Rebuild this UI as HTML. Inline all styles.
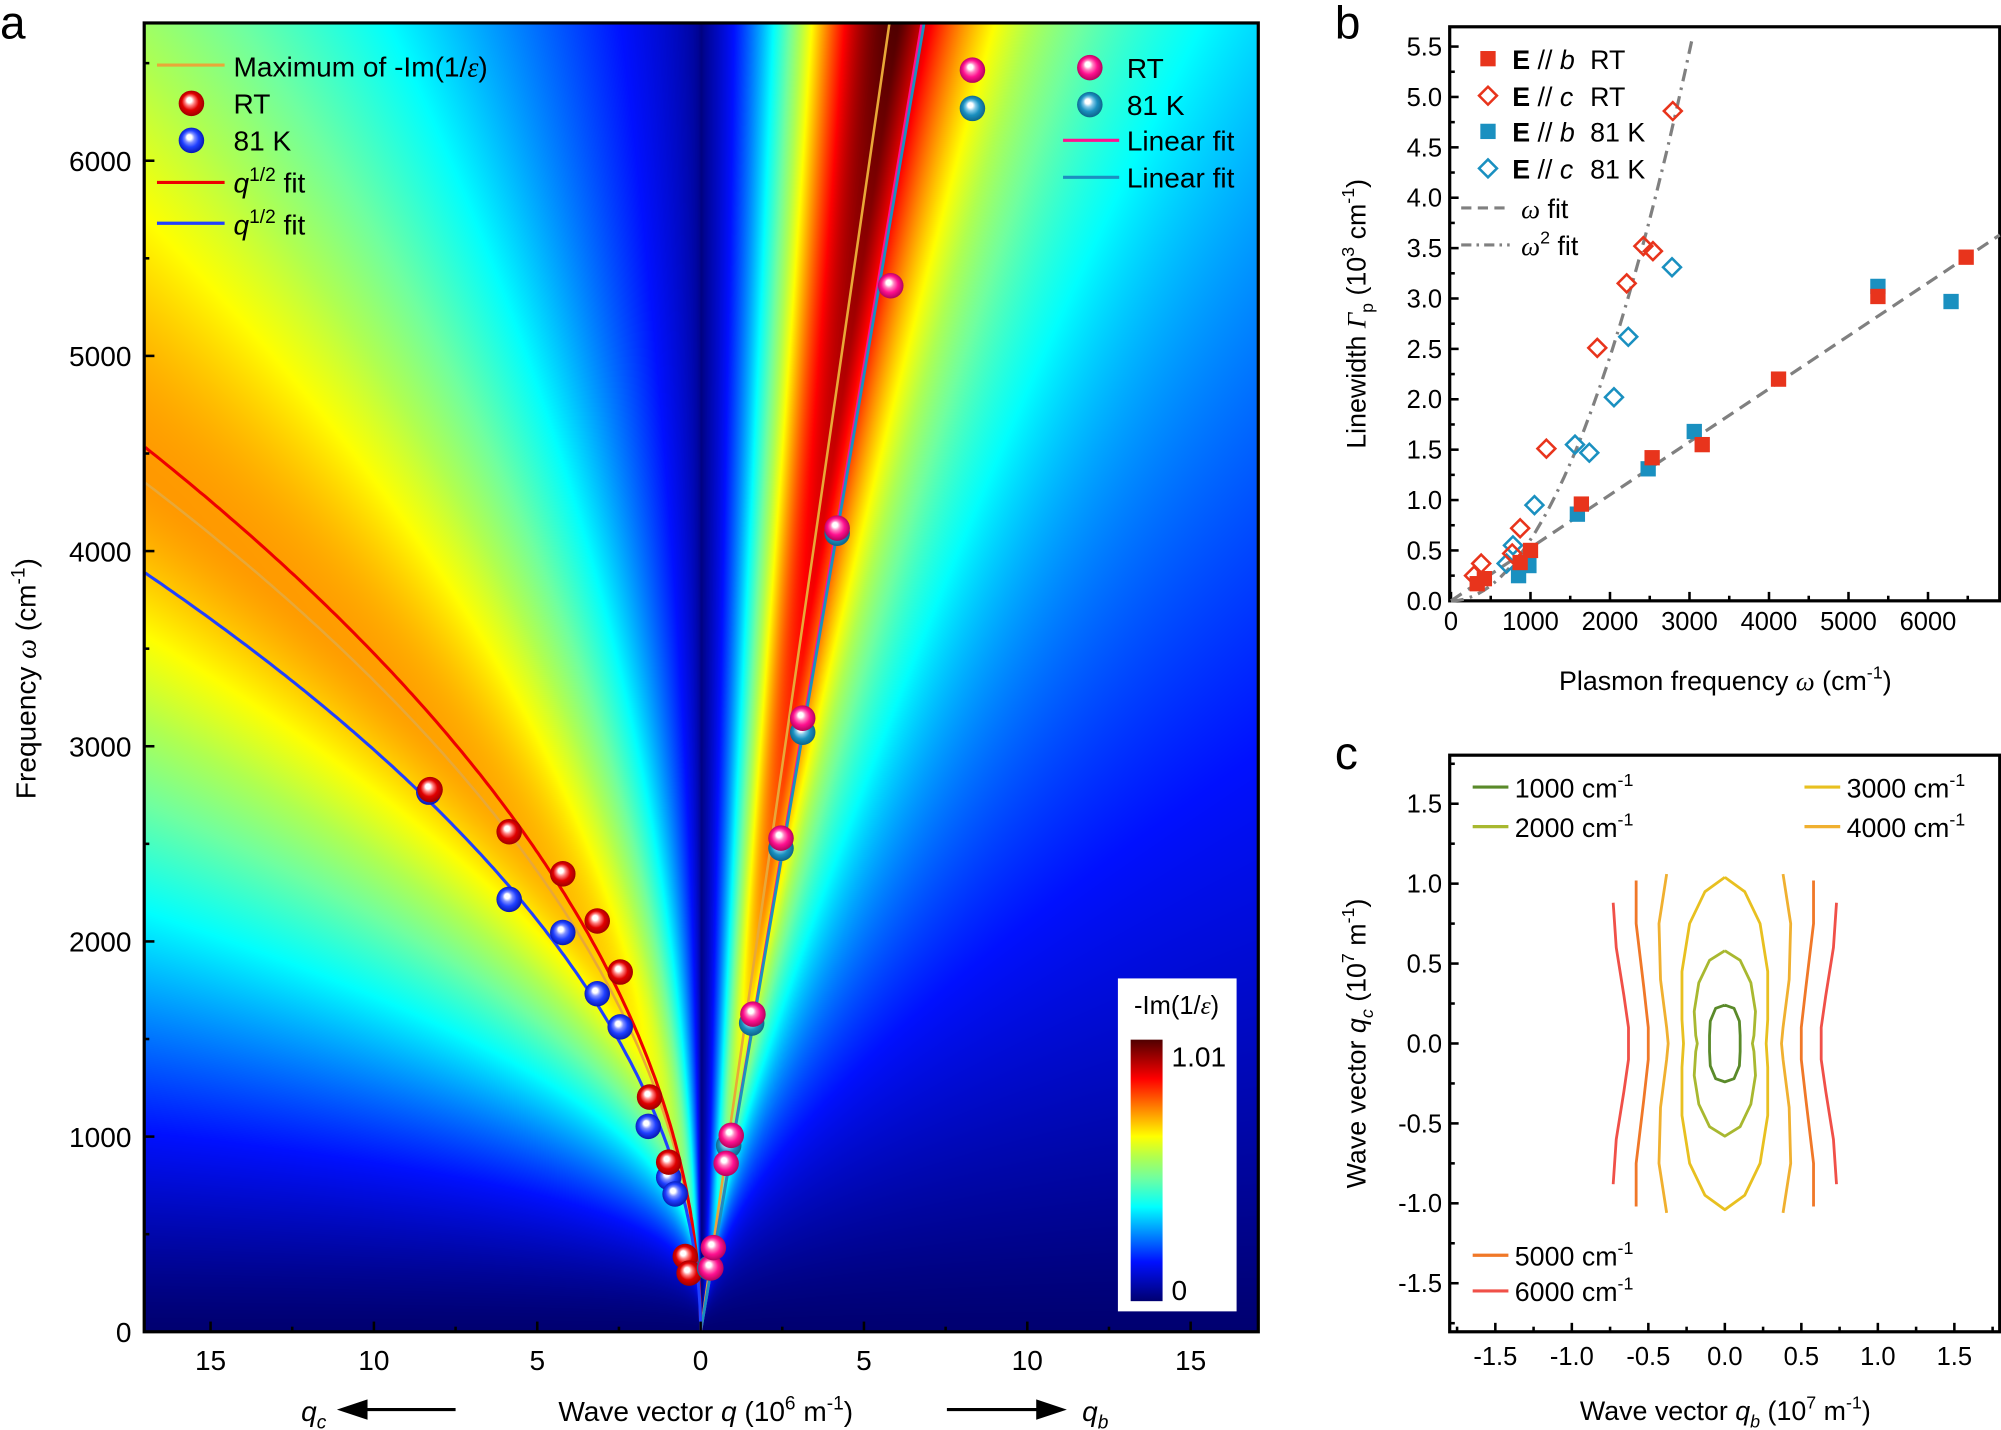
<!DOCTYPE html>
<html><head><meta charset="utf-8"><style>
html,body{margin:0;padding:0;background:#fff}
#w{position:relative;width:2001px;height:1430px;overflow:hidden;background:#fff}
canvas{position:absolute;left:144.2px;top:23px;width:1114px;height:1309px}
svg{position:absolute;left:0;top:0}
text{font-family:"Liberation Sans",sans-serif;fill:#000}
</style></head><body><div id="w">
<canvas id="cv" width="1114" height="1309"></canvas>
<svg id="sv" width="2001" height="1430" viewBox="0 0 1568 1121" preserveAspectRatio="none"></svg>
</div>
<script>
(function(){
var cv=document.getElementById('cv'),ctx=cv.getContext('2d');
var W=cv.width,H=cv.height,img=ctx.createImageData(W,H),d=img.data;
var st=[[0,0,0,112],[0.15,0,16,255],[0.36,0,255,255],[0.47,112,255,160],[0.55,176,255,80],[0.63,255,255,0],[0.74,255,128,0],[0.85,255,0,0],[1,80,0,0]];
function cm(v){if(v<0)v=0;if(v>1)v=1;for(var k=1;k<st.length;k++){if(v<=st[k][0]){var a=st[k-1],b=st[k],t=(v-a[0])/(b[0]-a[0]);return[a[1]+t*(b[1]-a[1]),a[2]+t*(b[2]-a[2]),a[3]+t*(b[3]-a[3])];}}return[80,0,0];}
for(var j=0;j<H;j++){var y=18+j*1026/H;var w=(1044-y)/0.153;if(w<1)w=1;
 for(var i=0;i<W;i++){var x=113+i*873/W;var q=(x-549)/25.6,v;
  if(q>=0){var wp=1110*Math.max(q,1e-4);var L=Math.log(w/wp);var g=L>0?1/(1+Math.pow(L/0.75,2)):1/(1+Math.pow(-L/0.6,1.3));
   var A=(0.7+0.3*w/6700)*(1-Math.exp(-w/900));v=A*g;}
  else{var wp2=1055*Math.sqrt(-q);var L2=Math.log(w/wp2);var g2=L2>0?1/(1+Math.pow(L2/0.72,2)):1/(1+Math.pow(-L2/0.75,1.5));
   var A2=0.72*(1-Math.exp(-w/700));v=A2*g2;}
  var c=cm(v),p=(j*W+i)*4;d[p]=c[0];d[p+1]=c[1];d[p+2]=c[2];d[p+3]=255;}}
ctx.putImageData(img,0,0);
})();
var s='';
function T(x,y,t,sz,anc,extra){return '<text x="'+x+'" y="'+y+'" font-size="'+sz+'" text-anchor="'+(anc||'start')+'" '+(extra||'')+'>'+t+'</text>';}
function L(x1,y1,x2,y2,c,w,ex){return '<line x1="'+x1+'" y1="'+y1+'" x2="'+x2+'" y2="'+y2+'" stroke="'+c+'" stroke-width="'+w+'" '+(ex||'')+'/>';}
function P(pts,c,w,ex){return '<polyline fill="none" points="'+pts.map(function(p){return p[0].toFixed(1)+','+p[1].toFixed(1)}).join(' ')+'" stroke="'+c+'" stroke-width="'+w+'" stroke-linejoin="round" '+(ex||'')+'/>';}
var defs='<defs>';
var sc={r:['#ff8080','#e00000','#900000'],b:['#8090ff','#2040ff','#0010a0'],p:['#ff80c0','#ff1090','#a00050'],t:['#80c8e8','#1a90c0','#0a5a80']};
for(var k in sc){defs+='<radialGradient id="g'+k+'" cx="0.5" cy="0.5" r="0.55" fx="0.4" fy="0.35"><stop offset="0" stop-color="#fff"/><stop offset="0.18" stop-color="#fff"/><stop offset="0.35" stop-color="'+sc[k][0]+'"/><stop offset="0.6" stop-color="'+sc[k][1]+'"/><stop offset="1" stop-color="'+sc[k][2]+'"/></radialGradient>';}
defs+='<linearGradient id="cb" x1="0" y1="1" x2="0" y2="0"><stop offset="0" stop-color="#000070"/><stop offset="0.15" stop-color="#0010ff"/><stop offset="0.36" stop-color="#00ffff"/><stop offset="0.47" stop-color="#70ffa0"/><stop offset="0.55" stop-color="#b0ff50"/><stop offset="0.63" stop-color="#ffff00"/><stop offset="0.74" stop-color="#ff8000"/><stop offset="0.85" stop-color="#ff0000"/><stop offset="1" stop-color="#500000"/></linearGradient>';
defs+='<clipPath id="ca"><rect x="113" y="18" width="873" height="1026"/></clipPath></defs>';
s+=defs;
function S(x,y,k){return '<circle cx="'+x+'" cy="'+y+'" r="10" fill="url(#g'+k+')"/>';}
function tx(q){return 549+25.6*q} function ty(w){return 1044-0.153*w}
var cr=[],cbl=[],co=[];
for(var i=0;i<=200;i++){var q=17*Math.pow(i/200,2);cr.push([tx(-q),ty(1099*Math.sqrt(q))]);cbl.push([tx(-q),ty(943*Math.sqrt(q))]);co.push([tx(-q),ty(1055*Math.sqrt(q))]);}
s+='<g clip-path="url(#ca)">';
s+=P(co,'#e8a838',2);
s+=L(tx(0),ty(0),tx(7),ty(1160*7),'#e8a838',2);
s+=L(tx(0),ty(0),tx(7),ty(990*7),'#ff1090',2.2);
s+=L(tx(0),ty(0),tx(7),ty(980*7),'#1a90c0',2.2);
s+=P(cr,'#ee0000',2.4);s+=P(cbl,'#2040ff',2.4);
s+='</g>';
[[336,621],[399,705],[441,731],[468,779],[486,805],[508,883],[524,923],[529,936]].forEach(function(p){s+=S(p[0],p[1],'b')});
[[337,619],[399,652],[441,685],[468,722],[486,762],[509,860],[524,911],[537,985],[540,998]].forEach(function(p){s+=S(p[0],p[1],'r')});
[[556,994],[571,898],[589,802],[612,665],[629,574],[656,418]].forEach(function(p){s+=S(p[0],p[1],'t')});
[[557,994],[559,978],[569,912],[573,890],[590,795],[612,657],[629,563],[656,414],[698,224]].forEach(function(p){s+=S(p[0],p[1],'p')});
s+='<rect x="113" y="18" width="873" height="1026" fill="none" stroke="#000" stroke-width="2.5"/>';
for(var w=0;w<=6500;w+=500){var y=ty(w),m=w%1000==0;s+=L(113,y,113+(m?8:4),y,'#000',2);if(m)s+=T(103,y+8,''+w,22,'end');}
for(var q=-15;q<=15;q+=2.5){var x=tx(q),m=q%5==0;s+=L(x,1044,x,1044-(m?8:4),'#000',2);if(m)s+=T(x,1074,''+Math.abs(q),22,'middle');}
s+=T(0,30,'a',36);s+=T(1046,30,'b',36);s+=T(1046,603,'c',36);
s+='<text transform="translate(28,532) rotate(-90)" font-size="22" text-anchor="middle">Frequency <tspan font-family="Liberation Serif" font-style="italic">ω</tspan> (cm<tspan dy="-9" font-size="15">-1</tspan><tspan dy="9">)</tspan></text>';
s+='<text x="553" y="1114" font-size="22" text-anchor="middle">Wave vector <tspan font-style="italic">q</tspan> (10<tspan dy="-9" font-size="15">6</tspan><tspan dy="9"> m</tspan><tspan dy="-9" font-size="15">-1</tspan><tspan dy="9">)</tspan></text>';
s+='<text x="236" y="1114" font-size="22" font-style="italic">q<tspan dy="6" font-size="15">c</tspan></text>';
s+='<text x="848" y="1114" font-size="22" font-style="italic">q<tspan dy="6" font-size="15">b</tspan></text>';
s+=L(283,1105,357,1105,'#000',2.5)+'<polygon points="264,1105 288,1097 288,1113" fill="#000"/>';
s+=L(742,1105,816,1105,'#000',2.5)+'<polygon points="836,1105 812,1097 812,1113" fill="#000"/>';
s+=L(123,51,176,51,'#e8a838',2.5)+T(183,60,'Maximum of -Im(1/<tspan font-family="Liberation Serif" font-style="italic">ε</tspan>)',22);
s+=S(150,81,'r')+T(183,89,'RT',22);s+=S(150,110,'b')+T(183,118,'81 K',22);
s+=L(123,143,176,143,'#ee0000',2.5)+'<text x="183" y="151" font-size="22"><tspan font-style="italic">q</tspan><tspan dy="-9" font-size="15">1/2</tspan><tspan dy="9"> fit</tspan></text>';
s+=L(123,175,176,175,'#2040ff',2.5)+'<text x="183" y="184" font-size="22"><tspan font-style="italic">q</tspan><tspan dy="-9" font-size="15">1/2</tspan><tspan dy="9"> fit</tspan></text>';
s+=S(762,55,'p')+S(762,85,'t')+S(854,53,'p')+S(854,82,'t');
s+=T(883,61,'RT',22)+T(883,90,'81 K',22);
s+=L(833,110,877,110,'#ff1090',2.5)+T(883,118,'Linear fit',22);
s+=L(833,139,877,139,'#1a90c0',2.5)+T(883,147,'Linear fit',22);
s+='<rect x="876" y="767" width="93" height="261" fill="#fff"/>';
s+=T(922,795,'-Im(1/<tspan font-family="Liberation Serif" font-style="italic">ε</tspan>)',20,'middle');
s+='<rect x="886" y="815" width="25" height="205" fill="url(#cb)"/>';
s+=T(918,836,'1.01',22)+T(918,1019,'0',22);
function bx(v){return 1137+0.0623*v} function by(v){return 471-79*v}
s+='<rect x="1136" y="21" width="431" height="450" fill="none" stroke="#000" stroke-width="2.5"/>';
for(var v=0;v<=5.5001;v+=0.25){var y=by(v),m=Math.abs(v*2-Math.round(v*2))<1e-6;s+=L(1136,y,1136+(m?7:4),y,'#000',2);if(m)s+=T(1130,y+7,v.toFixed(1),20,'end');}
for(var v=0;v<=6500;v+=500){var x=bx(v),m=v%1000==0;s+=L(x,471,x,471-(m?7:4),'#000',2);if(m)s+=T(x,494,''+v,20,'middle');}
s+='<text x="1352" y="541" font-size="21" text-anchor="middle">Plasmon frequency <tspan font-family="Liberation Serif" font-style="italic">ω</tspan> (cm<tspan dy="-9" font-size="14">-1</tspan><tspan dy="9">)</tspan></text>';
s+='<text transform="translate(1070,246) rotate(-90)" font-size="21" text-anchor="middle">Linewidth <tspan font-family="Liberation Serif" font-style="italic">Γ</tspan><tspan dy="6" font-size="14">p</tspan><tspan dy="-6"> (10</tspan><tspan dy="-9" font-size="14">3</tspan><tspan dy="9"> cm</tspan><tspan dy="-9" font-size="14">-1</tspan><tspan dy="9">)</tspan></text>';
s+=L(bx(0),by(0),1567,by(3.63),'#808080',2.5,'stroke-dasharray="10,6"');
var d2=[];for(var i=0;i<=60;i++){var xv=3.04*i/60;d2.push([bx(xv*1000),by(0.606*xv*xv)]);}
s+=P(d2,'#808080',2.5,'stroke-dasharray="10,5,2,5"');
function sq(x,y,c){return '<rect x="'+(bx(x)-6)+'" y="'+(by(y)-6)+'" width="12" height="12" fill="'+c+'"/>';}
function dm(x,y,c){var X=bx(x),Y=by(y);return '<polygon points="'+X+','+(Y-7)+' '+(X+7)+','+Y+' '+X+','+(Y+7)+' '+(X-7)+','+Y+'" fill="none" stroke="'+c+'" stroke-width="2"/>';}
var R='#e8341c',B='#1a90c0';
[[700,0.37],[780,0.55],[1050,0.95],[1560,1.55],[1740,1.47],[2050,2.02],[2230,2.62],[2780,3.31]].forEach(function(p){s+=dm(p[0],p[1],B)});
[[290,0.25],[380,0.37],[770,0.47],[870,0.72],[1200,1.51],[1840,2.51],[2210,3.15],[2420,3.52],[2540,3.47],[2790,4.86]].forEach(function(p){s+=dm(p[0],p[1],R)});
[[850,0.25],[980,0.35],[1590,0.86],[2480,1.31],[3060,1.68],[5370,3.12],[6290,2.97]].forEach(function(p){s+=sq(p[0],p[1],B)});
[[330,0.17],[420,0.22],[870,0.38],[1000,0.5],[1640,0.96],[2530,1.42],[3160,1.55],[4120,2.2],[5370,3.02],[6480,3.41]].forEach(function(p){s+=sq(p[0],p[1],R)});
function lgs(y,t,tl,c,dia){var r=dia?'<polygon points="1166,'+(y-7)+' 1173,'+y+' 1166,'+(y+7)+' 1159,'+y+'" fill="none" stroke="'+c+'" stroke-width="2"/>':'<rect x="1160" y="'+(y-6)+'" width="12" height="12" fill="'+c+'"/>';
 return r+'<text x="1185" y="'+(y+8)+'" font-size="21"><tspan font-weight="bold">E</tspan> // <tspan font-style="italic">'+t+'</tspan></text>'+T(1246,y+8,tl,21);}
s+=lgs(46,'b','RT',R,0)+lgs(75,'c','RT',R,1)+lgs(103,'b','81 K',B,0)+lgs(132,'c','81 K',B,1);
s+=L(1145,163,1183,163,'#808080',2.5,'stroke-dasharray="8,5"')+'<text x="1192" y="171" font-size="21"><tspan font-family="Liberation Serif" font-style="italic">ω</tspan>  fit</text>';
s+=L(1145,192,1183,192,'#808080',2.5,'stroke-dasharray="8,4,2,4"')+'<text x="1192" y="200" font-size="21"><tspan font-family="Liberation Serif" font-style="italic">ω</tspan><tspan dy="-9" font-size="14">2</tspan><tspan dy="9"> fit</tspan></text>';
function cx(v){return 1351.6+119.9*v} function cy(v){return 818-125.3*v}
s+='<rect x="1136" y="592" width="431" height="452" fill="none" stroke="#000" stroke-width="2.5"/>';
for(var v=-1.75;v<=1.75001;v+=0.25){var y=cy(v),m=Math.abs(v*2-Math.round(v*2))<1e-6;s+=L(1136,y,1136+(m?7:4),y,'#000',2);if(m&&Math.abs(v)<1.6)s+=T(1130,y+7,(v<0?'-':'')+Math.abs(v).toFixed(1),20,'end');}
for(var v=-1.75;v<=1.75001;v+=0.25){var x=cx(v),m=Math.abs(v*2-Math.round(v*2))<1e-6;s+=L(x,1044,x,1044-(m?7:4),'#000',2);if(m&&Math.abs(v)<1.6)s+=T(x,1070,(v<0?'-':'')+Math.abs(v).toFixed(1),20,'middle');}
s+='<text x="1352" y="1113" font-size="21" text-anchor="middle">Wave vector <tspan font-style="italic">q</tspan><tspan dy="6" font-size="14" font-style="italic">b</tspan><tspan dy="-6"> (10</tspan><tspan dy="-9" font-size="14">7</tspan><tspan dy="9"> m</tspan><tspan dy="-9" font-size="14">-1</tspan><tspan dy="9">)</tspan></text>';
s+='<text transform="translate(1070,818) rotate(-90)" font-size="21" text-anchor="middle">Wave vector <tspan font-style="italic">q</tspan><tspan dy="6" font-size="14" font-style="italic">c</tspan><tspan dy="-6"> (10</tspan><tspan dy="-9" font-size="14">7</tspan><tspan dy="9"> m</tspan><tspan dy="-9" font-size="14">-1</tspan><tspan dy="9">)</tspan></text>';
function cpath(pts,c){return P(pts.map(function(p){return[cx(p[0]),cy(p[1])]}),c,2.2);}
function mirY(h){var r=h.slice();for(var i=h.length-2;i>=0;i--)r.push([h[i][0],-h[i][1]]);return r;}
function closed(h){var a=mirY(h);var r=a.slice();for(var i=a.length-2;i>=0;i--)r.push([-a[i][0],a[i][1]]);return r;}
s+=cpath(closed([[0,0.24],[0.06,0.22],[0.095,0.14],[0.1,0.05],[0.1,0]]),'#5a8a2a');
s+=cpath(closed([[0,0.58],[0.1,0.52],[0.17,0.38],[0.2,0.2],[0.19,0.05],[0.18,0]]),'#a8b830');
s+=cpath(closed([[0,1.04],[0.13,0.95],[0.23,0.75],[0.28,0.45],[0.28,0.15],[0.27,0]]),'#e8c020');
var c4=mirY([[0.38,1.06],[0.43,0.75],[0.42,0.4],[0.38,0.1],[0.37,0]]);s+=cpath(c4,'#f0b030')+cpath(c4.map(function(p){return[-p[0],p[1]]}),'#f0b030');
var c5=mirY([[0.58,1.02],[0.58,0.75],[0.53,0.35],[0.5,0.1],[0.5,0]]);s+=cpath(c5,'#f07828')+cpath(c5.map(function(p){return[-p[0],p[1]]}),'#f07828');
var c6=mirY([[0.73,0.88],[0.71,0.6],[0.66,0.3],[0.63,0.1],[0.63,0]]);s+=cpath(c6,'#f05048')+cpath(c6.map(function(p){return[-p[0],p[1]]}),'#f05048');
function lc(x,y,c,t){return L(x,y,x+28,y,c,2.5)+'<text x="'+(x+33)+'" y="'+(y+8)+'" font-size="21">'+t+' cm<tspan dy="-9" font-size="14">-1</tspan></text>';}
s+=lc(1154,617,'#5a8a2a','1000')+lc(1154,648,'#a8b830','2000')+lc(1414,617,'#e8c020','3000')+lc(1414,648,'#f0b030','4000')+lc(1154,984,'#f07828','5000')+lc(1154,1012,'#f05048','6000');
document.getElementById('sv').innerHTML=s;
</script></body></html>
